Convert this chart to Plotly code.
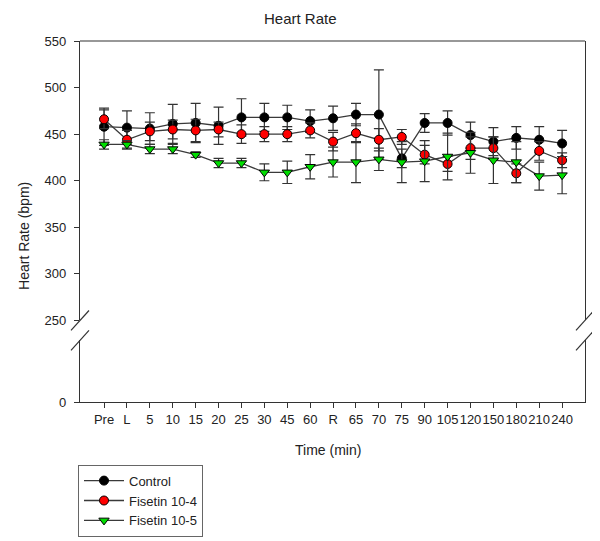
import plotly.graph_objects as go

# ---------------- data ----------------
time_labels = ["Pre", "L", "5", "10", "15", "20", "25", "30", "45", "60", "R",
               "65", "70", "75", "90", "105", "120", "150", "180", "210", "240"]

control = [458, 457, 456, 461, 462, 459, 468, 468, 468, 464, 467,
           471, 471, 424, 462, 462, 449, 442, 446, 444, 440]
control_err = [20, 18, 17, 21, 21, 20, 20, 15, 13, 12, 13,
               12, 48, 10, 10, 13, 14, 15, 12, 14, 14]

fis4 = [466, 444, 453, 455, 454, 455, 450, 450, 450, 454, 442,
        451, 444, 447, 428, 418, 435, 435, 408, 432, 422]
fis4_err = [10, 10, 10, 10, 12, 8, 10, 8, 8, 8, 10,
            10, 12, 8, 10, 8, 12, 12, 10, 10, 8]

fis5 = [439, 439, 434, 434, 428, 419, 419, 409, 409, 415, 420,
        420, 423, 420, 421, 426, 430, 422, 420, 405, 406]
fis5_err = [5, 4, 5, 5, 3, 5, 5, 9, 12, 13, 16,
            22, 12, 22, 22, 25, 22, 25, 22, 15, 20]

upper_ticks = [250, 300, 350, 400, 450, 500, 550]
lower_ticks = [0]

# ---------------- layout geometry (pixels in the target picture) ----------------
OFF = 8  # the page body adds an 8 px margin around the figure
W, H = 600, 541
L, R, T, B = 80 - OFF, 15 + OFF, 41 - OFF, 137 + OFF
PW, PH = W - L - R, H - T - B


def py(p):  # target pixel y -> paper y
    return (H - B - (p - OFF)) / PH


def px(p):  # target pixel x -> paper x
    return ((p - OFF) - L) / PW


fig = go.Figure()

series = [
    ("Control", control, control_err, "black", "circle"),
    ("Fisetin 10-4", fis4, fis4_err, "#ff0000", "circle"),
    ("Fisetin 10-5", fis5, fis5_err, "#00dd00", "triangle-down"),
]
for name, vals, errs, col, sym in series:
    fig.add_trace(go.Scatter(
        x=time_labels, y=vals, name=name, mode="lines+markers",
        xaxis="x", yaxis="y",
        line=dict(color="#3a3a3a", width=1.3),
        marker=dict(color=col, symbol=sym, size=9,
                    line=dict(color="black", width=1)),
        error_y=dict(type="data", array=errs, visible=True,
                     color="#333333", thickness=1.2, width=5),
    ))

# empty trace so the lower (0) axis segment is drawn
fig.add_trace(go.Scatter(x=time_labels[:1], y=[None], xaxis="x", yaxis="y2",
                         showlegend=False, hoverinfo="skip", mode="markers"))

FONT = "Liberation Sans, Arial, sans-serif"
axis_font = dict(family=FONT, size=13, color="#222222")

fig.update_layout(
    width=W, height=H,
    margin=dict(l=L, r=R, t=T, b=B),
    paper_bgcolor="white", plot_bgcolor="white",
    showlegend=True,
    font=axis_font,
    xaxis=dict(
        type="category", categoryorder="array", categoryarray=time_labels,
        range=[-1.05, 21.0], anchor="y2",
        showline=True, linecolor="#333333", linewidth=1.2,
        ticks="outside", ticklen=5, tickcolor="#333333",
        tickangle=0, showgrid=False, zeroline=False,
        tickfont=axis_font,
    ),
    yaxis=dict(
        domain=[py(322), 1], range=[250, 550], anchor="x",
        tickvals=upper_ticks, ticktext=[str(v) for v in upper_ticks],
        showline=True, mirror=True, linecolor="#333333", linewidth=1.2,
        ticks="outside", ticklen=5, tickcolor="#333333", ticklabelstandoff=5,
        showgrid=False, zeroline=False, tickfont=axis_font,
    ),
    yaxis2=dict(
        domain=[0, py(342)], range=[0, 60], anchor="x",
        tickvals=lower_ticks, ticktext=[str(v) for v in lower_ticks],
        showline=True, mirror=True, linecolor="#333333", linewidth=1.2,
        ticks="outside", ticklen=5, tickcolor="#333333", ticklabelstandoff=5,
        showgrid=False, zeroline=False, tickfont=axis_font,
    ),
    legend=dict(
        x=px(78), y=py(467), xanchor="left", yanchor="top",
        bordercolor="#666666", borderwidth=1, bgcolor="white",
        font=dict(family=FONT, size=13, color="#222222"),
        tracegroupgap=0, itemwidth=40,
    ),
)

# top frame line
fig.add_shape(type="line", xref="paper", yref="paper", x0=0, x1=1, y0=1, y1=1,
              line=dict(color="#333333", width=1.2))

# axis-break marks on both sides
for xc in (80, 585):
    for yc in (322, 342):
        fig.add_shape(type="line", xref="paper", yref="paper",
                      x0=px(xc - 9), y0=py(yc + 10), x1=px(xc + 9), y1=py(yc - 10),
                      line=dict(color="#333333", width=1.2))

# titles
fig.add_annotation(text="Heart Rate", xref="paper", yref="paper",
                   x=px(300), y=py(18), showarrow=False,
                   xanchor="center", yanchor="middle",
                   font=dict(family=FONT, size=15, color="#222222"))
fig.add_annotation(text="Time (min)", xref="paper", yref="paper",
                   x=px(328), y=py(452), showarrow=False,
                   xanchor="center", yanchor="middle",
                   font=dict(family=FONT, size=14, color="#222222"))
fig.add_annotation(text="Heart Rate (bpm)", xref="paper", yref="paper",
                   x=px(24), y=py(237), showarrow=False, textangle=-90,
                   xanchor="center", yanchor="middle",
                   font=dict(family=FONT, size=14, color="#222222"))

fig.write_html("out.html")
